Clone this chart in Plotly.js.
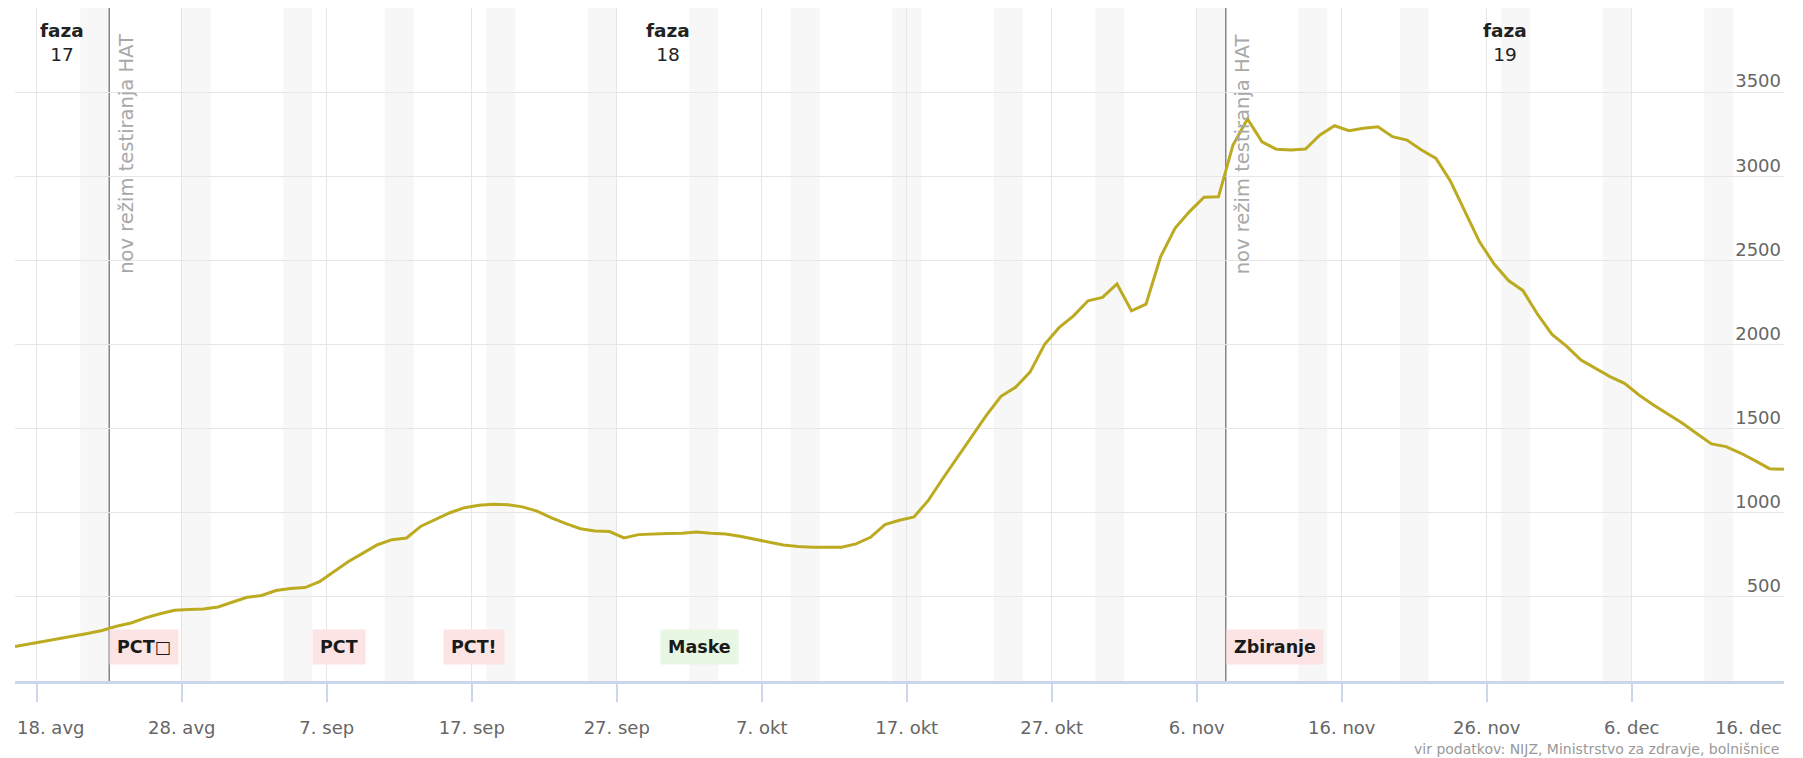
<!DOCTYPE html>
<html>
<head>
<meta charset="utf-8">
<script src="https://cdn.plot.ly/plotly-3.0.1.min.js"></script>
<style>
  html, body { margin: 0; padding: 0; background: #fff; }
  #chart { width: 1803px; height: 758px; }
</style>
</head>
<body>
<div id="chart"></div>
<script>
// ---- data ----
const startDate = '2020-08-16';           // first daily value (plotted at noon)
const hospitalised = [205,220,235,250,265,282,300,325,345,375,400,420,425,428,440,470,498,508,538,550,555,
  590,650,710,760,810,840,850,920,960,1000,1030,1045,1050,1048,1035,1010,970,935,905,892,888,850,870,875,876,878,
  885,878,874,860,842,825,808,800,795,795,795,815,854,930,955,975,1075,1205,1330,1450,1580,1692,1745,1836,2000,
  2100,2170,2260,2280,2360,2200,2240,2520,2691,2790,2875,2878,3186,3340,3205,3160,3156,3162,3245,3300,3271,3285,
  3294,3235,3215,3156,3106,2970,2790,2610,2480,2380,2320,2180,2060,1990,1908,1860,1809,1769,1700,1640,1585,1532,
  1470,1409,1393,1355,1310,1262,1258];

const tickDates = ['2020-08-18','2020-08-28','2020-09-07','2020-09-17','2020-09-27','2020-10-07','2020-10-17',
  '2020-10-27','2020-11-06','2020-11-16','2020-11-26','2020-12-06','2020-12-16'];
const tickLabels = ['18. avg','28. avg','7. sep','17. sep','27. sep','7. okt','17. okt','27. okt','6. nov',
  '16. nov','26. nov','6. dec','16. dec'];

const yTickVals = [0,500,1000,1500,2000,2500,3000,3500,4000];
const yTickText = ['','500','1000','1500','2000','2500','3000','3500',''];

const phaseStarts = ['2020-08-16 12:00','2020-08-23','2020-11-08'];
const phaseEnd = '2020-12-16 12:00';
const phaseNames = ['17','18','19'];

const lineDates = ['2020-08-23','2020-11-08'];
const lineText = 'nov režim testiranja HAT';

const eventDates = ['2020-08-23','2020-09-06','2020-09-15','2020-09-30','2020-11-08'];
const eventTexts = ['PCT\u25A1','PCT','PCT!','Maske','Zbiranje'];
const eventKinds = ['red','red','red','green','red'];

const firstWeekendBand = '2020-08-21';
const sourceText = 'vir podatkov: NIJZ, Ministrstvo za zdravje, bolnišnice';

// ---- helpers ----
function pad(n){ return (n<10?'0':'')+n; }
function fmt(d, withTime){
  let s = d.getUTCFullYear()+'-'+pad(d.getUTCMonth()+1)+'-'+pad(d.getUTCDate());
  if (withTime) s += ' '+pad(d.getUTCHours())+':'+pad(d.getUTCMinutes());
  return s;
}
function parse(s){
  const p = s.split(/[- :]/).map(Number);
  return new Date(Date.UTC(p[0], p[1]-1, p[2], p[3]||0, p[4]||0));
}

const x = hospitalised.map((v,i) => {
  const d = parse(startDate); d.setUTCDate(d.getUTCDate()+i); d.setUTCHours(12); return fmt(d,true);
});
const rangeStart = x[0];
const rangeEnd = x[x.length-1];

const FONT = 'DejaVu Sans, Verdana, sans-serif';
const AXFONT = {family:FONT, size:18, color:'#666'};

const shapes = [];
// weekend bands
{
  let d = parse(firstWeekendBand);
  const end = parse(rangeEnd);
  while (d < end) {
    const e = new Date(d.getTime()); e.setUTCDate(e.getUTCDate()+2);
    shapes.push({type:'rect', xref:'x', yref:'paper', x0: fmt(d), x1: fmt(e), y0:0, y1:1,
      fillcolor:'#f7f7f7', line:{width:0}, layer:'below'});
    d = new Date(d.getTime()); d.setUTCDate(d.getUTCDate()+7);
  }
}
// event lines
lineDates.forEach(ld => shapes.push({type:'line', xref:'x', yref:'paper', x0: ld, x1: ld, y0:0, y1:1,
  line:{color:'#858585', width:1.5}, layer:'between'}));

const annotations = [];
// phase labels
phaseStarts.forEach((ps,i) => {
  const a = parse(ps).getTime();
  const b = parse(i+1 < phaseStarts.length ? phaseStarts[i+1] : phaseEnd).getTime();
  const c = new Date((a+b)/2);
  annotations.push({xref:'x', yref:'paper', x: fmt(c,true), y: 0.9487, xanchor:'center', yanchor:'middle',
    text: '<b>faza</b><br>'+phaseNames[i], showarrow:false, align:'center',
    font:{family:FONT, size:18.5, color:'#222'}});
});
// rotated line labels
lineDates.forEach(ld => annotations.push({xref:'x', yref:'paper', x: ld, y: 0.9643, xanchor:'left', yanchor:'top',
  xshift: 3, textangle:-90, text: lineText, showarrow:false, font:{family:FONT, size:19.5, color:'#a8a8a8'}}));
// event boxes
eventDates.forEach((ed,i) => annotations.push({xref:'x', yref:'paper', x: ed, y: 0.0505, xanchor:'left', yanchor:'middle',
  text: '<b>'+eventTexts[i]+'</b>', showarrow:false, bgcolor: eventKinds[i]==='green' ? '#e7f7e4' : '#fde4e4', borderpad:7,
  font:{family:FONT, size:17.5, color:'#1a1a1a'}}));
// first and last x tick labels are kept inside the chart edges, as the original does
annotations.push({xref:'paper', yref:'paper', x: 0, y: -0.0684, xanchor:'left', yanchor:'middle',
  xshift: 0, text: tickLabels[0], showarrow:false, font: AXFONT});
annotations.push({xref:'x', yref:'paper', x: tickDates[tickDates.length-1], y: -0.0684, xanchor:'right', yanchor:'middle',
  xshift: 7, text: tickLabels[tickLabels.length-1], showarrow:false, font: AXFONT});
// source
annotations.push({xref:'paper', yref:'paper', x:1, y:-0.101, xanchor:'right', yanchor:'middle', xshift:-3,
  text: sourceText, showarrow:false, font:{family:FONT, size:14, color:'#999'}});

const trace = {
  type:'scatter', mode:'lines', x: x, y: hospitalised,
  line:{color:'#bcab20', width:3}, hoverinfo:'x+y'
};

const xTickText = tickLabels.map((t,i) => (i === 0 || i === tickLabels.length-1) ? '' : t);

const layout = {
  width:1803, height:758,
  margin:{l:15, r:19, t:8, b:77},
  paper_bgcolor:'#fff', plot_bgcolor:'rgba(0,0,0,0)',
  showlegend:false,
  xaxis:{
    type:'date', range:[rangeStart, rangeEnd],
    tickmode:'array', tickvals: tickDates, ticktext: xTickText,
    ticks:'outside', ticklen:18, tickcolor:'#ccd6eb', tickwidth:1.5,
    showgrid:true, gridcolor:'#e6e6e6', gridwidth:1.2,
    showline:true, linecolor:'#ccd6eb', linewidth:2.5,
    zeroline:false, ticklabelstandoff: 11,
    tickfont: AXFONT
  },
  yaxis:{
    range:[0,4000], side:'right', ticklabelposition:'inside',
    tickmode:'array', tickvals: yTickVals, ticktext: yTickText,
    showgrid:true, gridcolor:'#e6e6e6', gridwidth:1.2, zeroline:false, showline:false, ticks:'',
    ticklabelshift: -11, ticklabelstandoff: 0,
    tickfont: AXFONT
  },
  shapes: shapes,
  annotations: annotations
};

Plotly.newPlot('chart', [trace], layout, {displayModeBar:false, staticPlot:true});
</script>
</body>
</html>
